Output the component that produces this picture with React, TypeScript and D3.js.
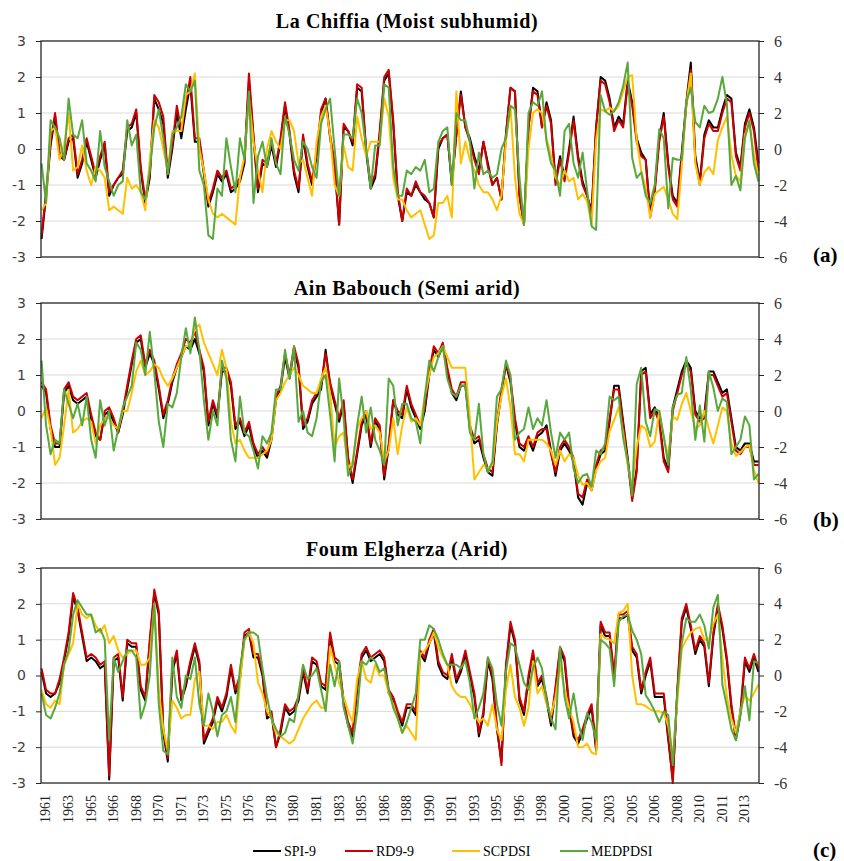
import React, { useRef, useEffect } from "react";
import { select, scaleLinear, axisLeft, axisRight, line } from "d3";

// one sample every 4 months, first one Sep 1961 (637 months in all)
const STEP = 4;
const N_MONTHS = 637;

const yearTicks = ["1961", "1963", "1965", "1966", "1968", "1970", "1971", "1973", "1975", "1976", "1978", "1980", "1981", "1983", "1985", "1986",
  "1988", "1990", "1991", "1993", "1995", "1996", "1998", "2000", "2001", "2003", "2005", "2006", "2008", "2010", "2011", "2013"];
const leftTicks = [-3, -2, -1, 0, 1, 2, 3];
const rightTicks = [-6, -4, -2, 0, 2, 4, 6];

// La Chiffia  (SPI / RD on left axis, PDSI on right axis)
const spiA = [
  -2.5, -1.3, 0.1, 0.9, -0.2, -0.3, 0.2, 0.3, -0.8, -0.4,
  0.2, -0.3, -0.8, -0.3, 0.1, -1.3, -1.0, -0.8, -0.7, 0.5,
  0.6, 1.0, -0.6, -1.5, -0.8, 1.4, 1.1, 0.7, -0.8, 0.0,
  1.0, 0.3, 1.1, 1.8, 0.2, 0.2, -0.7, -1.6, -1.2, -0.7,
  -0.9, -0.7, -1.2, -1.1, -0.9, -0.4, 1.9, 0.3, -1.2, -0.4,
  -0.5, 0.1, -0.5, 0.2, 1.2, 0.4, -0.7, -1.2, 0.3, -0.5,
  -1.0, -0.2, 1.0, 1.4, 0.3, -0.5, -2.1, 0.6, 0.5, 0.1,
  1.7, 1.6, -0.1, -1.1, -0.8, 0.4, 1.9, 2.1, 0.7, -1.3,
  -2.0, -1.2, -1.3, -1.0, -1.2, -1.4, -1.5, -1.9, 0.0, 0.3,
  0.4, -1.0, 0.4, 1.6, 0.6, 0.3, -0.2, -0.6, 0.2, -0.4,
  -1.0, -0.8, -1.4, 0.4, 1.7, 1.6, -1.3, -2.1, 0.6, 1.7,
  1.6, 0.6, 1.3, 0.8, -0.9, -0.2, -0.8, 0.0, 0.9, -0.2,
  -0.9, -1.3, -1.7, 0.6, 2.0, 1.9, 1.4, 0.6, 0.9, 0.7,
  1.9, 1.3, 0.3, -0.1, -0.3, -1.8, -1.1, 0.3, 1.0, -0.4,
  -1.3, -1.5, -0.1, 1.3, 2.4, -0.2, -0.9, 0.4, 0.8, 0.6,
  0.6, 1.1, 1.5, 1.4, -0.1, -0.5, 0.7, 1.1, 0.6, -0.4,
];
const rdA = [
  -2.4, -1.2, 0.2, 1.0, -0.1, -0.3, 0.3, 0.4, -0.7, -0.3,
  0.3, -0.2, -0.7, -0.2, 0.2, -1.2, -1.0, -0.8, -0.6, 0.6,
  0.7, 1.1, -0.5, -1.4, -0.7, 1.5, 1.3, 0.9, -0.7, 0.1,
  1.2, 0.5, 1.3, 2.0, 0.3, 0.3, -0.6, -1.5, -1.1, -0.6,
  -0.8, -0.6, -1.1, -1.0, -0.8, -0.3, 2.1, 0.4, -1.1, -0.3,
  -0.4, 0.2, -0.4, 0.3, 1.3, 0.5, -0.6, -1.1, 0.4, -0.4,
  -0.9, -0.1, 1.1, 1.4, 0.4, -0.4, -2.1, 0.7, 0.5, 0.2,
  1.8, 1.7, 0.0, -1.0, -0.7, 0.5, 2.0, 2.2, 0.8, -1.2,
  -2.0, -1.1, -1.3, -0.9, -1.2, -1.3, -1.5, -1.9, 0.1, 0.3,
  0.4, -0.9, 0.4, 1.5, 0.6, 0.2, -0.3, -0.7, 0.2, -0.5,
  -1.0, -0.8, -1.4, 0.4, 1.7, 1.6, -1.3, -2.1, 0.6, 1.6,
  1.5, 0.6, 1.2, 0.7, -1.0, -0.3, -0.9, -0.1, 0.8, -0.3,
  -1.0, -1.3, -1.8, 0.6, 1.9, 1.8, 1.3, 0.5, 0.8, 0.6,
  1.8, 1.2, 0.2, -0.2, -0.3, -1.9, -1.2, 0.2, 0.9, -0.5,
  -1.4, -1.6, -0.2, 1.2, 2.2, -0.3, -1.0, 0.3, 0.7, 0.5,
  0.5, 1.0, 1.4, 1.3, -0.2, -0.6, 0.6, 1.0, 0.5, -0.6,
];
const scA = [
  -3.4, -3.0, 1.0, 1.2, -0.6, 0.2, 2.0, -1.2, -1.0, 0.2,
  -1.2, -2.0, -1.0, -1.2, -1.6, -3.4, -3.2, -3.4, -3.6, -1.6,
  -2.2, -2.0, -2.4, -3.4, -0.6, 1.6, 1.2, 0.0, -1.2, 1.0,
  1.0, 1.0, 3.0, 3.2, 4.2, 0.0, -1.2, -2.8, -3.6, -3.8,
  -3.6, -3.8, -4.0, -4.2, -1.6, -0.4, 2.8, 0.4, -1.2, -2.4,
  0.0, 1.0, 0.4, 0.0, 1.6, 1.6, 1.0, -0.8, -0.6, -1.6,
  -2.6, 0.4, 1.8, 2.4, 0.8, -2.0, -2.6, 0.2, -1.0, -1.2,
  1.8, 0.6, -0.4, 0.4, 0.4, 0.4, 2.8, 1.8, -1.6, -2.8,
  -2.8, -3.4, -3.8, -3.6, -3.4, -4.2, -5.0, -4.8, -3.0, -3.0,
  -2.6, -3.8, 3.2, -0.8, 0.4, -0.6, -1.2, -2.0, -2.4, -2.4,
  -2.8, -3.4, -2.6, 0.4, 2.4, -1.6, -3.6, -4.2, 0.0, 2.0,
  2.2, 2.0, 0.6, -0.4, -1.6, -2.0, -1.2, -1.8, -1.6, -2.8,
  -2.5, -2.9, -4.2, 0.5, 2.2, 2.1, 2.3, 2.1, 2.4, 3.2,
  4.0, 4.1, 0.5, -1.2, -2.2, -3.8, -2.5, -2.3, -2.1, -2.8,
  -3.6, -3.9, -1.0, 2.5, 4.2, -0.8, -2.0, -1.3, -1.0, -1.4,
  0.5, 1.2, 1.8, -0.3, -1.5, -1.8, 0.8, 1.4, -0.3, -1.5,
];
const medA = [
  -0.8, -3.0, 1.6, 1.2, 0.6, -0.6, 2.8, 0.8, 0.6, 1.6,
  -0.8, -1.2, -1.8, 1.0, -1.0, -1.8, -2.6, -2.0, -1.8, 1.6,
  0.2, 0.8, -2.4, -2.8, -1.2, 1.2, 2.2, 0.6, -1.4, 0.8,
  1.2, 1.8, 3.6, 3.2, 3.8, -1.2, -2.0, -4.8, -5.0, -2.2,
  -2.6, 0.6, -1.0, -2.4, 0.6, -0.6, 3.2, -3.0, -0.4, 0.4,
  -1.0, 0.6, -0.8, -1.4, 1.8, 0.8, -0.6, -1.2, 0.4, 0.0,
  -1.0, -1.6, 1.4, 2.2, 2.8, 0.0, -2.6, 0.8, 0.8, 0.6,
  2.8, 2.0, 0.0, -2.2, 0.2, 0.2, 3.6, 3.4, -1.0, -2.6,
  -2.6, -1.2, -1.4, -1.0, -1.2, -0.6, -2.4, -2.2, 0.4, 1.0,
  1.2, -2.0, 2.0, 1.6, 1.6, 0.4, -2.2, -0.2, -1.4, -1.2,
  -1.6, -1.4, 0.0, 0.6, 2.4, 2.2, -1.6, -4.2, 2.0, 2.6,
  2.4, 3.2, 0.4, -0.8, -1.2, -2.6, 1.0, 1.4, -0.8, -1.6,
  -0.2, -2.3, -4.3, -4.5, 3.0, 2.1, 1.9, 2.1, 2.6, 3.5,
  4.8, -0.5, -1.6, -1.3, -2.6, -3.0, -2.0, 1.1, 0.6, -3.3,
  -0.5, -0.6, -0.6, 2.6, 3.4, 1.5, 1.2, 2.4, 2.0, 2.1,
  2.8, 4.0, 2.5, -2.0, -1.5, -2.3, 0.6, 1.6, -0.8, -1.8,
];

// Ain Babouch
const spiB = [
  0.7, 0.5, -0.5, -1.0, -1.0, 0.5, 0.7, 0.3, 0.2, 0.3,
  0.4, -0.2, -0.7, -0.8, -0.1, 0.0, -0.3, -0.6, -0.1, 0.6,
  1.3, 1.9, 2.0, 1.2, 1.6, 1.3, 0.6, -0.2, 0.2, 0.8,
  1.2, 1.5, 1.8, 1.7, 2.0, 1.6, 1.1, -0.4, 0.2, -0.2,
  1.1, 1.1, 0.7, -0.5, -0.3, -0.7, -0.4, -1.0, -1.3, -1.1,
  -1.3, -0.8, 0.3, 0.6, 1.5, 0.9, 1.7, 1.2, -0.5, -0.3,
  0.2, 0.4, 0.6, 1.7, 0.7, 0.2, -0.3, 0.2, -1.4, -2.0,
  -1.2, -0.4, -0.1, -1.0, -0.3, -0.5, -1.9, -1.0, 0.3, -0.1,
  -0.2, 0.6, 0.1, -0.2, -0.5, 0.0, 1.0, 1.7, 1.5, 1.8,
  1.1, 0.5, 0.3, 0.7, 0.7, -0.5, -0.9, -0.8, -1.3, -1.7,
  -1.8, -0.4, 0.5, 1.3, 0.8, -0.3, -1.0, -1.1, -0.8, -1.1,
  -0.7, -0.6, -0.4, -1.1, -1.8, -1.1, -0.9, -1.1, -1.4, -2.4,
  -2.6, -2.0, -2.2, -1.6, -1.2, -1.1, -0.3, 0.7, 0.7, -0.3,
  -1.3, -2.4, -1.6, 1.1, 1.2, -0.1, 0.1, -0.2, -1.3, -1.6,
  0.1, 0.6, 1.1, 1.4, 1.2, 0.0, -0.2, -0.1, 1.1, 1.1,
  0.8, 0.5, 0.6, -0.2, -1.0, -1.1, -0.9, -0.9, -1.4, -1.4,
];
const rdB = [
  0.8, 0.6, -0.4, -0.9, -0.9, 0.6, 0.8, 0.4, 0.3, 0.4,
  0.5, -0.1, -0.6, -0.8, 0.0, 0.1, -0.2, -0.6, 0.0, 0.7,
  1.4, 2.0, 2.1, 1.3, 1.7, 1.4, 0.7, -0.1, 0.3, 0.9,
  1.3, 1.6, 2.0, 1.9, 2.2, 1.7, 1.2, -0.3, 0.3, -0.1,
  1.2, 1.2, 0.8, -0.4, -0.2, -0.6, -0.3, -0.9, -1.2, -1.0,
  -1.2, -0.7, 0.4, 0.7, 1.6, 1.0, 1.8, 1.3, -0.4, -0.2,
  0.3, 0.5, 0.7, 1.6, 0.8, 0.3, -0.2, 0.3, -1.3, -1.9,
  -1.1, -0.3, 0.0, -0.9, -0.2, -0.4, -1.8, -0.9, 0.3, 0.0,
  -0.1, 0.7, 0.2, -0.1, -0.4, 0.1, 1.1, 1.8, 1.6, 1.9,
  1.2, 0.6, 0.4, 0.8, 0.8, -0.4, -0.8, -0.7, -1.2, -1.6,
  -1.7, -0.3, 0.6, 1.3, 0.9, -0.2, -0.9, -1.0, -0.7, -1.0,
  -0.6, -0.5, -0.5, -1.2, -1.7, -1.0, -0.8, -1.0, -1.3, -2.3,
  -2.4, -1.9, -2.1, -1.5, -1.1, -1.0, -0.2, 0.6, 0.6, -0.4,
  -1.4, -2.5, -1.7, 1.0, 1.1, -0.2, 0.0, -0.3, -1.4, -1.7,
  0.0, 0.5, 1.0, 1.3, 1.1, -0.1, -0.3, -0.2, 1.0, 1.0,
  0.7, 0.4, 0.5, -0.3, -1.1, -1.2, -1.0, -1.0, -1.5, -1.5,
];
const scB = [
  -0.4, 0.2, -1.0, -3.0, -2.6, -0.8, 1.2, -1.2, -1.0, -0.6,
  -0.4, -0.6, -1.8, -0.8, -0.4, -0.4, -0.8, -1.0, 0.0, 0.0,
  1.0, 2.2, 2.8, 2.0, 2.2, 2.6, 2.4, 1.8, 1.4, 1.8,
  2.4, 3.0, 3.6, 3.6, 4.6, 4.8, 3.8, 3.2, 2.6, 2.0,
  3.4, 2.4, -0.6, -1.8, -1.6, -2.2, -2.6, -2.6, -2.6, -2.4,
  -2.2, -1.6, 0.6, 1.0, 1.6, 2.0, 2.4, 2.0, 1.4, 1.2,
  1.0, 1.0, 1.8, 2.4, 1.0, -2.0, -1.4, -1.2, -3.2, -2.8,
  -1.0, -0.4, 0.0, -1.0, -0.8, -1.2, -2.8, -2.2, -0.4, -2.4,
  -0.8, 0.2, -0.6, -0.4, -0.8, 0.8, 2.0, 3.0, 3.2, 3.6,
  3.0, 2.4, 2.4, 2.4, 2.4, -0.4, -3.8, -3.4, -3.0, -3.2,
  -3.0, -0.6, 0.8, 1.8, 0.2, -2.4, -2.4, -2.8, -1.6, -1.6,
  -1.6, -1.6, -1.8, -2.2, -3.0, -2.2, -2.8, -2.4, -2.6, -3.6,
  -4.1, -4.0, -4.4, -3.3, -2.8, -2.6, -1.1, -0.5, 0.2, -1.2,
  -3.0, -4.2, -2.0, -0.8, -1.0, -2.0, -1.7, 0.0, -1.5, -2.5,
  -0.3, -0.5, 0.4, 1.0, 0.0, -1.0, -0.8, 0.0, -1.0, -1.8,
  -0.8, 0.2, 0.0, -1.8, -2.5, -2.3, -2.0, -1.9, -3.3, -4.0,
];
const medB = [
  2.8, -0.8, -2.4, -1.6, -1.8, 1.2, 0.4, -0.4, 0.4, -0.8,
  0.8, -1.6, -2.6, 0.6, -0.8, 0.0, -2.2, -1.0, 0.2, 0.8,
  1.4, 3.8, 3.4, 2.0, 4.4, 2.2, -0.6, -2.0, 0.4, 0.2,
  1.0, 3.0, 4.6, 3.2, 5.2, 3.4, 0.6, -1.6, 0.0, -0.8,
  2.8, 1.8, -1.6, -2.8, 0.8, -1.2, -1.4, -2.2, -3.2, -1.4,
  -1.8, -1.2, 1.2, 1.2, 3.4, 1.8, 3.6, -0.6, 0.0, -1.2,
  -1.4, -0.4, 1.6, 2.0, -0.2, -2.8, 1.8, -0.4, -3.6, -3.0,
  -0.8, 0.8, -1.2, 0.2, -1.6, -2.2, -3.0, 1.8, 1.4, -0.8,
  0.4, 0.4, -0.4, -0.6, -1.8, 0.8, 2.8, 2.2, 3.0, 3.6,
  1.8, 1.0, 0.8, 1.4, 1.4, -1.2, -1.6, 0.4, -2.4, -3.4,
  -2.8, 0.8, 1.2, 2.8, 2.0, -1.6, -1.2, -1.0, 0.2, -1.0,
  -0.4, -0.8, 0.6, -1.2, -2.6, -1.2, -1.6, -1.2, -3.2, -4.0,
  -3.6, -3.5, -4.2, -2.2, -2.4, -1.8, 0.8, 0.6, 0.8, -1.5,
  -2.8, -4.7, 1.5, 2.4, -0.6, -1.4, 0.1, 0.0, -1.4, -3.0,
  0.2, 0.9, 1.0, 3.0, 1.2, -1.6, 0.3, -1.7, 2.2, 1.3,
  0.0, 0.7, 0.5, -2.4, -2.0, -1.6, -0.3, -0.8, -3.8, -3.5,
];

// Foum Elgherza
const spiC = [
  0.1, -0.5, -0.6, -0.5, -0.2, 0.4, 1.1, 2.2, 1.8, 1.1,
  0.4, 0.5, 0.4, 0.2, 0.3, -2.9, 0.4, 0.5, -0.7, 0.9,
  0.8, 0.8, -0.4, -0.7, 0.9, 2.3, 1.7, -1.6, -2.4, 0.1,
  0.6, -0.7, -0.3, 0.3, 0.8, 0.3, -1.9, -1.6, -1.3, -0.7,
  -1.0, -0.6, 0.2, -0.5, -0.1, 1.1, 1.2, 0.5, 0.5, 0.0,
  -1.2, -1.1, -2.0, -1.6, -0.9, -1.1, -1.0, -0.7, 0.1, -0.5,
  0.4, 0.3, -0.3, -0.4, 1.1, 0.4, 0.3, -0.8, -1.4, -1.7,
  -0.4, 0.5, 0.7, 0.4, 0.5, 0.6, 0.4, -0.5, -0.7, -1.1,
  -1.4, -0.9, -0.9, -1.1, 0.6, 0.4, 0.9, 1.2, 0.3, 0.0,
  -0.1, 0.5, -0.2, 0.1, 0.6, 0.0, -0.6, -1.7, -1.1, 0.4,
  -0.1, -1.5, -2.4, 0.2, 1.4, 0.9, -0.7, -1.1, -0.1, 0.6,
  -0.3, -0.1, -0.7, -1.4, -0.4, 0.7, 0.4, -0.9, -1.7, -1.9,
  -1.6, -1.2, -0.9, -2.1, 1.4, 1.1, 1.1, -0.1, 1.6, 1.6,
  1.7, 0.7, 0.5, -0.5, 0.0, 0.4, -0.6, -0.6, -0.6, -1.8,
  -2.9, -0.5, 1.5, 1.9, 1.3, 0.6, 1.0, 0.8, -0.3, 1.1,
  1.9, 1.3, 0.4, -0.9, -1.8, -1.1, 0.4, 0.1, 0.5, 0.1,
];
const rdC = [
  0.2, -0.4, -0.5, -0.5, -0.1, 0.5, 1.2, 2.3, 1.9, 1.2,
  0.5, 0.6, 0.5, 0.3, 0.4, -2.8, 0.5, 0.6, -0.6, 1.0,
  0.9, 0.9, -0.3, -0.6, 1.0, 2.4, 1.8, -1.5, -2.3, 0.2,
  0.7, -0.6, -0.2, 0.4, 0.9, 0.4, -1.8, -1.5, -1.2, -0.6,
  -0.9, -0.5, 0.3, -0.4, 0.0, 1.2, 1.3, 0.6, 0.6, 0.1,
  -1.1, -1.0, -2.0, -1.5, -0.8, -1.0, -0.9, -0.6, 0.2, -0.4,
  0.5, 0.4, -0.2, -0.3, 1.2, 0.5, 0.4, -0.7, -1.3, -1.6,
  -0.3, 0.6, 0.8, 0.5, 0.6, 0.7, 0.5, -0.4, -0.6, -1.0,
  -1.3, -0.8, -0.8, -1.0, 0.7, 0.5, 1.0, 1.3, 0.4, 0.1,
  0.0, 0.6, -0.1, 0.2, 0.7, 0.1, -0.5, -1.6, -1.0, 0.5,
  0.0, -1.4, -2.5, 0.3, 1.5, 1.0, -0.6, -1.0, 0.0, 0.7,
  -0.2, 0.0, -0.6, -1.3, -0.3, 0.8, 0.5, -0.8, -1.6, -1.8,
  -1.5, -1.1, -0.8, -2.0, 1.5, 1.2, 1.2, 0.0, 1.7, 1.7,
  1.8, 0.8, 0.6, -0.4, 0.1, 0.5, -0.5, -0.5, -0.5, -1.7,
  -3.0, -0.4, 1.6, 2.0, 1.4, 0.7, 1.1, 0.9, -0.2, 1.2,
  2.0, 1.4, 0.5, -0.8, -1.7, -1.0, 0.5, 0.2, 0.6, 0.2,
];
const scC = [
  -0.8, -1.6, -1.8, -1.4, -1.6, 0.6, 1.2, 1.8, 4.0, 3.4,
  3.2, 3.4, 2.8, 2.4, 2.8, 1.8, 2.2, 1.4, 1.0, 1.2,
  1.4, 1.4, 0.6, 0.6, 1.0, 4.0, -0.8, -3.0, -4.2, -1.4,
  -1.8, -2.4, -2.2, -2.2, -0.2, 0.2, -2.8, -2.8, -3.0, -2.6,
  -2.6, -2.2, -2.8, -3.2, -0.4, 2.0, 2.4, 1.8, -0.4, -1.0,
  -2.0, -2.4, -3.2, -3.4, -3.6, -3.8, -3.6, -3.0, -2.4, -2.0,
  -1.6, -1.4, -1.8, -1.8, 1.6, 0.6, -0.4, -1.2, -2.0, -2.6,
  -0.2, 0.8, -0.2, -0.4, 0.6, 0.0, 0.0, -1.0, -1.6, -2.4,
  -3.2, -2.8, -3.2, -3.6, 1.2, 1.4, 1.8, 2.4, 1.6, 1.0,
  0.6, -0.6, -1.0, -1.2, -1.2, -1.6, -2.2, -2.6, -2.4, -2.8,
  -1.6, -3.0, -3.6, -0.8, 0.6, -1.2, -1.8, -2.8, -1.8, 0.8,
  -1.0, -0.6, -1.6, -2.2, -1.2, 0.6, -0.8, -1.8, -2.6, -4.0,
  -4.0, -3.8, -4.3, -4.4, 2.3, 2.1, 2.0, 1.8, 3.5, 3.6,
  4.0, 0.0, -1.6, -1.6, -1.7, -1.9, -2.0, -2.0, -2.1, -2.8,
  -4.5, -1.5, 1.5, 2.0, 2.4, 2.6, 2.7, 2.0, 2.0, 2.9,
  3.4, 1.0, -1.2, -2.4, -3.2, -2.0, -1.1, -1.4, -1.0, -0.5,
];
const medC = [
  -1.0, -2.2, -2.4, -1.8, -1.0, 0.6, 1.4, 3.4, 4.2, 3.8,
  3.4, 3.4, 2.4, 2.6, 2.0, -3.6, 1.0, 0.2, 0.8, 1.4,
  1.4, 1.0, -2.4, -1.6, 0.0, 4.0, -1.6, -4.2, -4.4, 1.0,
  -1.2, -1.8, 0.0, -0.2, 1.0, -1.6, -2.8, -1.0, -2.0, -3.4,
  -2.2, -2.0, -1.2, -2.6, 0.4, 2.0, 2.4, 2.4, 2.2, 0.4,
  -1.2, -2.4, -3.0, -3.4, -3.2, -2.4, -2.6, -1.0, 0.6, -0.2,
  0.0, 0.4, -0.8, -2.0, 0.6, -0.6, 0.8, -1.8, -2.8, -3.8,
  -2.0, 0.8, 0.6, 1.0, 0.8, 0.2, 0.4, -0.8, -1.8, -2.4,
  -3.2, -2.6, -1.8, -1.0, 2.0, 2.0, 2.8, 2.6, 2.0, 1.2,
  0.6, 0.6, 0.6, 0.4, 0.8, -0.4, -2.4, -1.8, -1.0, 1.0,
  0.4, -1.6, -2.8, 0.2, 1.8, 1.6, 0.6, -0.4, -0.8, 0.4,
  1.0, 0.4, -1.4, -2.4, -3.0, 1.6, -1.2, -2.4, -1.0, -2.6,
  -3.6, -2.1, -2.6, -3.6, 2.0, 1.8, 1.5, -0.6, 3.0, 3.3,
  3.4, 2.5, 2.0, 1.2, -1.1, -1.5, -2.0, -2.6, -2.0, -2.2,
  -5.0, -1.0, 1.8, 3.2, 3.0, 3.0, 3.4, 2.8, 1.5, 3.8,
  4.5, -0.5, -1.7, -3.0, -3.6, -2.2, -0.6, -2.5, 0.8, 0.7,
];

const PANELS = [
  { title: "La Chiffia (Moist subhumid)", tag: "(a)", top: 41, bottom: 257, titleY: 28, tagY: 262, series: [spiA, rdA, scA, medA] },
  { title: "Ain Babouch (Semi arid)", tag: "(b)", top: 303, bottom: 519, titleY: 295, tagY: 527, series: [spiB, rdB, scB, medB] },
  { title: "Foum Elgherza (Arid)", tag: "(c)", top: 568, bottom: 783, titleY: 556, tagY: 857, series: [spiC, rdC, scC, medC] },
];

const SERIES = [
  { name: "SPI-9", color: "#000000", right: false },
  { name: "RD9-9", color: "#cc0000", right: false },
  { name: "SCPDSI", color: "#ffc000", right: true },
  { name: "MEDPDSI", color: "#58a83b", right: true },
];

const LEFT = 41;
const RIGHT = 759;
const legendX = [253, 345, 452, 560];
const SERIF = "'Liberation Serif', 'Times New Roman', serif";

export default function App() {
  const svgRef = useRef(null);

  useEffect(() => {
    const svg = select(svgRef.current);
    svg.selectAll("*").remove();

    const x = scaleLinear().domain([-0.5, N_MONTHS - 0.5]).range([LEFT, RIGHT]);

    PANELS.forEach((p) => {
      const yL = scaleLinear().domain([-3, 3]).range([p.bottom, p.top]);
      const yR = scaleLinear().domain([-6, 6]).range([p.bottom, p.top]);
      const g = svg.append("g");

      g.append("g")
        .selectAll("line")
        .data(leftTicks.slice(1, -1))
        .join("line")
        .attr("x1", LEFT)
        .attr("x2", RIGHT)
        .attr("y1", (d) => yL(d))
        .attr("y2", (d) => yL(d))
        .attr("stroke", "#d9d9d9")
        .attr("stroke-width", 1);

      p.series.forEach((vals, si) => {
        const s = SERIES[si];
        const y = s.right ? yR : yL;
        const path = line()
          .x((d, i) => x(i * STEP))
          .y((d) => y(d));
        g.append("path")
          .attr("d", path(vals))
          .attr("fill", "none")
          .attr("stroke", s.color)
          .attr("stroke-width", 2)
          .attr("stroke-linejoin", "round");
      });

      g.append("rect")
        .attr("x", LEFT)
        .attr("y", p.top)
        .attr("width", RIGHT - LEFT)
        .attr("height", p.bottom - p.top)
        .attr("fill", "none")
        .attr("stroke", "#262626")
        .attr("stroke-width", 1.3);

      const la = g.append("g")
        .attr("transform", `translate(${LEFT},0)`)
        .call(axisLeft(yL).tickValues(leftTicks).tickSize(5).tickPadding(10).tickFormat((d) => String(d)));
      la.select(".domain").remove();
      la.selectAll("line").attr("stroke", "#262626");
      la.selectAll("text")
        .attr("font-family", "'DejaVu Sans', Verdana, sans-serif")
        .attr("font-size", 14)
        .attr("fill", "#404040");

      const ra = g.append("g")
        .attr("transform", `translate(${RIGHT},0)`)
        .call(axisRight(yR).tickValues(rightTicks).tickSize(5).tickPadding(10).tickFormat((d) => String(d)));
      ra.select(".domain").remove();
      ra.selectAll("line").attr("stroke", "#262626");
      ra.selectAll("text")
        .attr("font-family", SERIF)
        .attr("font-size", 16)
        .attr("fill", "#333");

      g.append("text")
        .attr("x", 407)
        .attr("y", p.titleY)
        .attr("text-anchor", "middle")
        .attr("font-family", SERIF)
        .attr("font-weight", "bold")
        .attr("font-size", 20)
        .attr("letter-spacing", 0.6)
        .text(p.title);

      g.append("text")
        .attr("x", 813)
        .attr("y", p.tagY)
        .attr("font-family", SERIF)
        .attr("font-weight", "bold")
        .attr("font-size", 21)
        .text(p.tag);
    });

    // year labels under the last panel
    svg.append("g")
      .selectAll("text")
      .data(yearTicks)
      .join("text")
      .attr("transform", (d, i) => `translate(${x(i * 20) + 4},795) rotate(-90)`)
      .attr("text-anchor", "end")
      .attr("dy", "0.35em")
      .attr("font-family", SERIF)
      .attr("font-size", 14)
      .attr("fill", "#222")
      .text((d) => d);

    const lg = svg.append("g").selectAll("g").data(SERIES).join("g")
      .attr("transform", (d, i) => `translate(${legendX[i]},851)`);
    lg.append("line").attr("x1", 0).attr("x2", 28).attr("stroke", (d) => d.color).attr("stroke-width", 2);
    lg.append("text")
      .attr("x", 31)
      .attr("dy", "0.35em")
      .attr("font-family", SERIF)
      .attr("font-size", 14)
      .text((d) => d.name);
  }, []);

  return (
    <svg ref={svgRef} width={844} height={861} style={{ position: "absolute", left: 0, top: 0, background: "#fff" }} />
  );
}
